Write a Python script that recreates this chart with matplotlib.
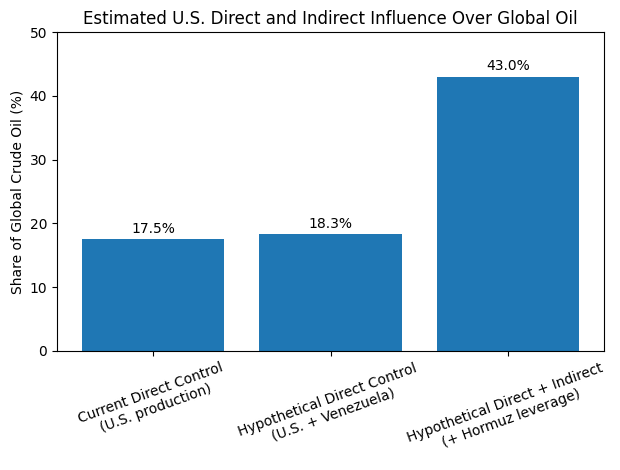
import matplotlib
matplotlib.use("Agg")
import matplotlib.pyplot as plt

categories = [
    "Current Direct Control\n(U.S. production)",
    "Hypothetical Direct Control\n(U.S. + Venezuela)",
    "Hypothetical Direct + Indirect\n(+ Hormuz leverage)",
]
shares = [17.5, 18.3, 43.0]

fig, ax = plt.subplots(figsize=(6.2, 4.7), dpi=100)
bars = ax.bar(categories, shares)

for b, v in zip(bars, shares):
    ax.text(b.get_x() + b.get_width() / 2, v + 0.5, f"{v:.1f}%",
            ha="center", va="bottom")

ax.set_ylim(0, 50)
ax.set_ylabel("Share of Global Crude Oil (%)")
ax.set_title("Estimated U.S. Direct and Indirect Influence Over Global Oil")
plt.xticks(rotation=20)
fig.subplots_adjust(left=57 / 620, right=604 / 620, top=1 - 32 / 470, bottom=1 - 351 / 470)
plt.savefig("out.png")
